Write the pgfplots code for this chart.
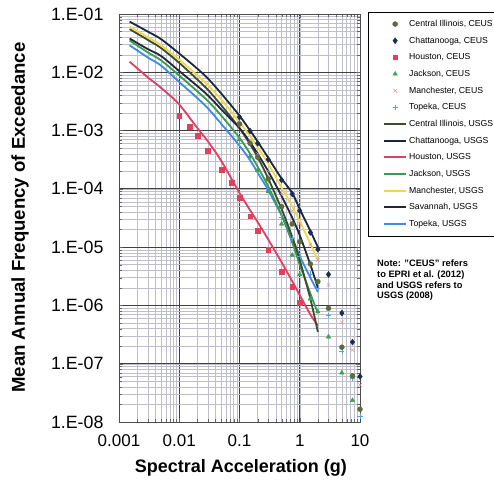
\documentclass[border=0pt]{standalone}
\usepackage{pgfplots}
\pgfplotsset{compat=1.18}
\usepackage{fontspec}
\setmainfont{Liberation Sans}
\definecolor{cilceus}{HTML}{5B6B3C}
\definecolor{chaceus}{HTML}{1E2B55}
\definecolor{houceus}{HTML}{E0405E}
\definecolor{jacceus}{HTML}{3FA050}
\definecolor{manceus}{HTML}{D98A8A}
\definecolor{topceus}{HTML}{5AA0E0}
\definecolor{cilusgs}{HTML}{3C4A30}
\definecolor{chausgs}{HTML}{1C2640}
\definecolor{houusgs}{HTML}{E0405E}
\definecolor{jacusgs}{HTML}{3A9A55}
\definecolor{manusgs}{HTML}{F0D848}
\definecolor{savusgs}{HTML}{22283A}
\definecolor{topusgs}{HTML}{3D8BE0}
\pgfplotsset{
  lgline/.style={legend image code/.code={\path (-14pt,0pt); \draw[##1] (-1pt,0pt) -- (21pt,0pt);}},
  lgmark/.style={legend image code/.code={\path (-14pt,0pt) (21pt,0pt); \draw[##1] plot coordinates {(10pt,0pt)};}},
}
\begin{document}
\begin{tikzpicture}
\useasboundingbox (-119pt,-59pt) rectangle (375pt,422pt);
\begin{axis}[
  at={(0,0)}, anchor=south west,
  scale only axis, width=241pt, height=408pt,
  xmode=log, ymode=log,
  xmin=0.001, xmax=10, ymin=1e-8, ymax=1e-1,
  xtick={0.001,0.01,0.1,1,10},
  xticklabels={0.001,0.01,0.1,1,10},
  ytick={1e-8,1e-7,1e-6,1e-5,1e-4,1e-3,1e-2,1e-1},
  yticklabels={1.E-08,1.E-07,1.E-06,1.E-05,1.E-04,1.E-03,1.E-02,1.E-01},
  /pgf/number format/assume math mode=true,
  xticklabel style={font=\fontsize{17}{17}\selectfont, yshift=-9pt},
  yticklabel style={font=\fontsize{17.8}{17.8}\selectfont, xshift=-12pt},
  grid=both,
  major grid style={draw=black!75, line width=0.8pt},
  minor grid style={draw=blue!20!black!25, line width=0.4pt},
  axis line style={draw=black!70, line width=0.8pt},
  tick style={draw=black!60},
  xlabel={\bfseries Spectral Acceleration (g)},
  ylabel={\bfseries Mean Annual Frequency of Exceedance},
  xlabel style={font=\fontsize{18}{20}\selectfont, at={(axis description cs:0.506,-0.1127)}, anchor=center},
  ylabel style={font=\fontsize{18.6}{20}\selectfont, at={(axis description cs:-0.411,0.501)}, anchor=center},
  legend style={at={(axis description cs:1.033,1.005)}, anchor=north west,
    draw=black, fill=white, font=\fontsize{8.7}{10}\selectfont,
    row sep=4.9pt, inner xsep=2pt, inner ysep=6pt},
  legend cell align=left,
  clip=false,
]
% legend entries
\addlegendimage{lgmark, only marks, mark=*, mark size=2.5pt, color=cilceus}
\addlegendentry{Central Illinois, CEUS}
\addlegendimage{lgmark, only marks, mark=diamond*, mark size=3pt, color=chaceus}
\addlegendentry{Chattanooga, CEUS}
\addlegendimage{lgmark, only marks, mark=square*, mark size=2.3pt, color=houceus}
\addlegendentry{Houston, CEUS}
\addlegendimage{lgmark, only marks, mark=triangle*, mark size=2.6pt, color=jacceus}
\addlegendentry{Jackson, CEUS}
\addlegendimage{lgmark, only marks, mark=x, mark size=2.6pt, color=manceus}
\addlegendentry{Manchester, CEUS}
\addlegendimage{lgmark, only marks, mark=+, mark size=2.6pt, color=topceus}
\addlegendentry{Topeka, CEUS}
\addlegendimage{lgline, line width=2pt, color=cilusgs}
\addlegendentry{Central Illinois, USGS}
\addlegendimage{lgline, line width=2pt, color=chausgs}
\addlegendentry{Chattanooga, USGS}
\addlegendimage{lgline, line width=2pt, color=houusgs}
\addlegendentry{Houston, USGS}
\addlegendimage{lgline, line width=2pt, color=jacusgs}
\addlegendentry{Jackson, USGS}
\addlegendimage{lgline, line width=2pt, color=manusgs}
\addlegendentry{Manchester, USGS}
\addlegendimage{lgline, line width=2pt, color=savusgs}
\addlegendentry{Savannah, USGS}
\addlegendimage{lgline, line width=2pt, color=topusgs}
\addlegendentry{Topeka, USGS}
% USGS lines
\addplot[forget plot, color=houusgs, line width=1.8pt, smooth] coordinates {
(0.0015,0.0152)(0.003,0.0082)(0.005,0.0054)(0.01,0.0028)(0.02,0.0011)(0.03,6.5e-4)(0.05,3.0e-4)(0.1,8.5e-5)(0.15,4.3e-5)(0.2,2.7e-5)(0.3,1.35e-5)(0.5,5.5e-6)(0.75,2.6e-6)(1,1.5e-6)(1.5,7e-7)(2,4.5e-7)};
\addplot[forget plot, color=topusgs, line width=1.8pt, smooth] coordinates {
(0.0015,0.029)(0.003,0.018)(0.005,0.013)(0.01,0.0068)(0.02,0.0036)(0.03,0.0024)(0.05,0.0013)(0.1,5.5e-4)(0.15,3.1e-4)(0.2,1.9e-4)(0.3,9.5e-5)(0.5,3.5e-5)(0.75,1.4e-5)(1,7e-6)(1.5,3e-6)(2,1.7e-6)};
\addplot[forget plot, color=jacusgs, line width=1.8pt, smooth] coordinates {
(0.0015,0.035)(0.003,0.022)(0.005,0.016)(0.01,0.0088)(0.02,0.0047)(0.03,0.0032)(0.05,0.0018)(0.1,7.5e-4)(0.15,4e-4)(0.2,2.4e-4)(0.3,1.1e-4)(0.5,3.5e-5)(0.75,1.2e-5)(1,5e-6)(1.5,1.6e-6)(2,7.4e-7)};
\addplot[forget plot, color=cilusgs, line width=1.8pt, smooth] coordinates {
(0.0015,0.055)(0.003,0.036)(0.005,0.026)(0.01,0.0145)(0.02,0.0075)(0.03,0.005)(0.05,0.0027)(0.1,0.0011)(0.15,5.8e-4)(0.2,3.5e-4)(0.3,1.5e-4)(0.5,4.5e-5)(0.75,1.5e-5)(1,6e-6)(1.5,1.3e-6)(2,3.5e-7)};
\addplot[forget plot, color=savusgs, line width=1.8pt, smooth] coordinates {
(0.0015,0.038)(0.003,0.025)(0.005,0.019)(0.01,0.0105)(0.02,0.0058)(0.03,0.004)(0.05,0.0023)(0.1,0.0011)(0.15,6.3e-4)(0.2,4e-4)(0.3,2e-4)(0.5,7.5e-5)(0.75,3.2e-5)(1,1.6e-5)(1.5,5e-6)(2,2e-6)};
\addplot[forget plot, color=manusgs, line width=1.8pt, smooth] coordinates {
(0.0015,0.061)(0.003,0.04)(0.005,0.029)(0.01,0.0165)(0.02,0.0088)(0.03,0.006)(0.05,0.0034)(0.1,0.0014)(0.15,8e-4)(0.2,5.2e-4)(0.3,2.7e-4)(0.5,1.05e-4)(0.75,5e-5)(1,2.8e-5)(1.5,1.15e-5)(2,6e-6)};
\addplot[forget plot, color=chausgs, line width=1.8pt, smooth] coordinates {
(0.0015,0.074)(0.003,0.05)(0.005,0.037)(0.01,0.021)(0.02,0.0115)(0.03,0.0078)(0.05,0.0043)(0.1,0.0018)(0.15,0.001)(0.2,6.5e-4)(0.3,3.4e-4)(0.5,1.5e-4)(0.75,8.5e-5)(1,4.5e-5)(1.5,1.9e-5)(2,1.0e-5)};
% CEUS markers
\addplot[forget plot, only marks, mark=square*, mark size=2.4pt, color=houceus] coordinates {
(0.01,1.78e-3)(0.015,1.15e-3)(0.02,8.1e-4)(0.03,4.5e-4)(0.05,2.1e-4)(0.075,1.26e-4)(0.1,7e-5)(0.15,3.4e-5)(0.2,1.9e-5)(0.3,9e-6)(0.5,3.8e-6)(0.75,2.1e-6)(1,1.1e-6)};
\addplot[forget plot, only marks, mark=+, mark size=2.6pt, color=topceus] coordinates {
(0.1,6e-4)(0.15,3.5e-4)(0.2,2.0e-4)(0.3,9.5e-5)(0.5,3.3e-5)(0.75,1.4e-5)(1,7e-6)(1.5,3.5e-6)(2,2e-6)(3,6.7e-7)(5,1.63e-7)(7.5,5.7e-8)(10,1.27e-8)};
\addplot[forget plot, only marks, mark=triangle*, mark size=2.6pt, color=jacceus] coordinates {
(0.1,7e-4)(0.15,3.6e-4)(0.2,2.1e-4)(0.3,9e-5)(0.5,2.5e-5)(0.75,7.3e-6)(1,3.4e-6)(1.5,1.3e-6)(2,7.8e-7)(3,2.9e-7)(5,7e-8)(7.5,2.35e-8)};
\addplot[forget plot, only marks, mark=x, mark size=2.6pt, color=manceus] coordinates {
(0.1,1.2e-3)(0.15,6.5e-4)(0.2,4.0e-4)(0.3,2.0e-4)(0.5,8e-5)(0.75,4.2e-5)(1,2.5e-5)(1.5,1.1e-5)(2,6e-6)(3,2.25e-6)(5,5.1e-7)(7.5,1.72e-7)(10,4.3e-8)};
\addplot[forget plot, only marks, mark=*, mark size=2.5pt, color=cilceus] coordinates {
(0.1,1.3e-3)(0.15,6.05e-4)(0.2,3.5e-4)(0.3,1.48e-4)(0.5,4.95e-5)(0.75,2.5e-5)(1,1.24e-5)(1.5,5.15e-6)(2,2.56e-6)(3,8.95e-7)(5,1.92e-7)(7.5,6.2e-8)(10,1.66e-8)};
\addplot[forget plot, only marks, mark=diamond*, mark size=3pt, color=chaceus] coordinates {
(0.1,1.7e-3)(0.15,9.8e-4)(0.2,6.05e-4)(0.3,3.2e-4)(0.5,1.42e-4)(0.75,8.2e-5)(1,4.2e-5)(1.5,1.79e-5)(2,9.2e-6)(3,3.4e-6)(5,7.4e-7)(7.5,2.35e-7)(10,6.05e-8)};
\node[anchor=north west, align=left, font=\fontsize{9.3}{10.8}\selectfont\bfseries, inner sep=0pt]
  at (axis description cs:1.0705,0.398)
  {Note: "CEUS" refers\\to EPRI et al. (2012)\\and USGS refers to\\USGS (2008)};
\end{axis}
\end{tikzpicture}
\end{document}
